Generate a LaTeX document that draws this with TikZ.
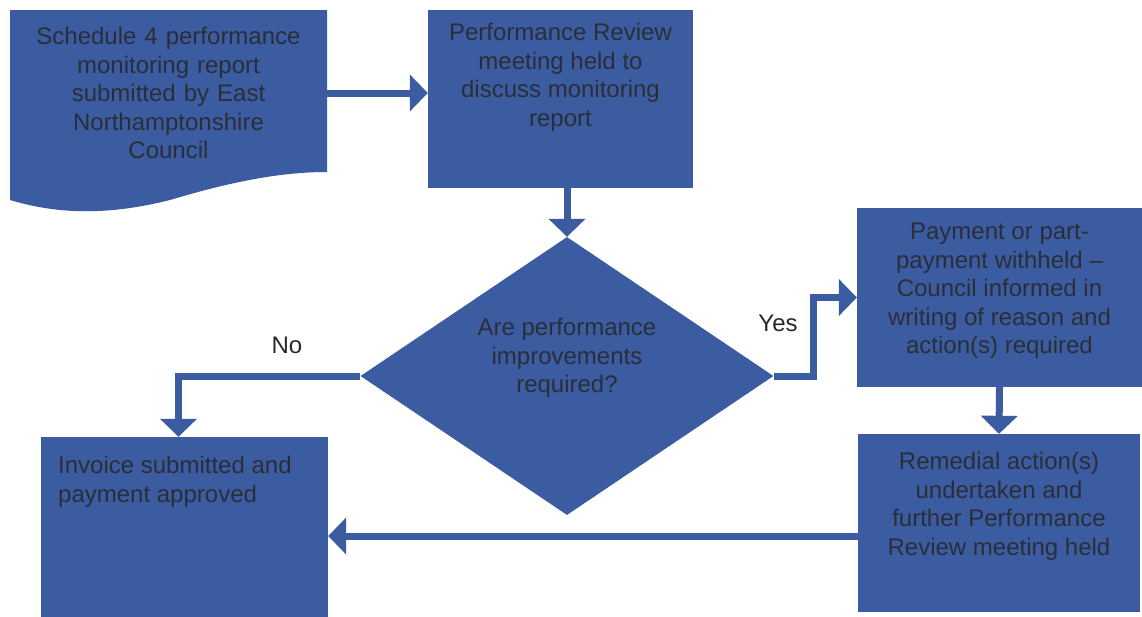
\documentclass[tikz,border=0pt]{standalone}
\usepackage{fontspec}
\setmainfont{Liberation Sans}
\usetikzlibrary{shapes.geometric,arrows.meta}
\definecolor{boxblue}{RGB}{59,92,160}
\definecolor{boxtext}{RGB}{42,46,56}
\definecolor{labeltext}{RGB}{40,40,40}
\tikzset{
  boxshape/.style={fill=boxblue, draw=none, inner sep=0pt, minimum width=#1},
  boxtxt/.style={text=boxtext, inner sep=0pt, align=center, font=\fontsize{24}{28.5}\selectfont},
  conn/.style={draw=boxblue, line width=7pt, -{Triangle[width=36pt,length=18pt]}},
  lbl/.style={text=labeltext, font=\fontsize{24}{28}\selectfont, inner sep=0pt}
}
\begin{document}
\begin{tikzpicture}[x=1pt,y=-1pt]
\useasboundingbox[fill=white] (0,0) rectangle (1142,616);
% document shape (wavy bottom)
\fill[boxblue] (10,10) -- (327,10) -- (327,172)
  .. controls (280,172) and (230,182) .. (170,200)
  .. controls (110,215) and (60,215) .. (10,200) -- cycle;
\node[boxtxt, minimum width=317pt, minimum height=168pt, text width=300pt] (doc) at (168.5,93)
  {Schedule 4 performance\\monitoring report\\submitted by East\\Northamptonshire\\Council};
% boxes
\node[boxshape=265pt, minimum height=178pt] (pr) at (560.5,99) {};
\node[boxshape=287pt, minimum height=180pt] (inv) at (184.5,527) {};
\node[boxshape=285pt, minimum height=179pt] (pay) at (999.5,297.5) {};
\node[boxshape=282pt, minimum height=178pt] (rem) at (999,523) {};
\node[diamond, fill=boxblue, inner sep=0pt, minimum width=413pt, minimum height=278pt] (dia) at (567,376) {};
% texts
\node[boxtxt, anchor=north] (prT) at (560.5,23) {Performance Review\\meeting held to\\discuss monitoring\\report};
\node[boxtxt, anchor=north] (diaT) at (567,318) {Are performance\\improvements\\required?};
\node[boxtxt, anchor=north west, align=left] (invT) at (58,456) {Invoice submitted and\\payment approved};
\node[boxtxt, anchor=north] (payT) at (999.5,223) {Payment or part-\\payment withheld --\\Council informed in\\writing of reason and\\action(s) required};
\node[boxtxt, anchor=north] (remT) at (999,452) {Remedial action(s)\\undertaken and\\further Performance\\Review meeting held};
% connectors
\draw[conn] (doc.east) -- (doc.east -| pr.west);
\draw[conn] (pr.south -| dia.north) -- (dia.north);
\draw[conn] (dia.west) -| ([xshift=-6pt]inv.north);
\coordinate (yb) at (813,376);
\draw[conn] (dia.east) -- (yb) |- (pay.west);
\draw[conn] (pay.south) -- (rem.north);
\draw[conn] ([yshift=-13pt]rem.west) -- ([yshift=-13pt]rem.west -| inv.east);
% labels
\node[lbl] (no) at (287,345) {No};
\node[lbl] (yes) at (778,323) {Yes};
\end{tikzpicture}
\end{document}
